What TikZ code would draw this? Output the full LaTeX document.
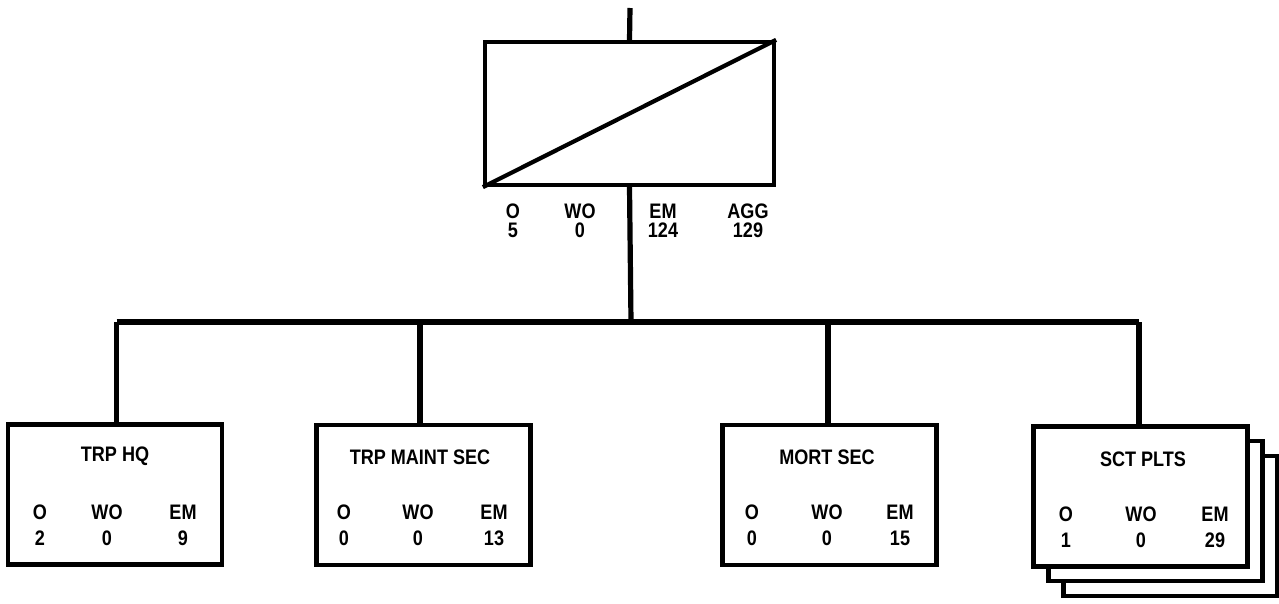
\documentclass[tikz,border=0pt]{standalone}
\usepackage{fontspec}
\setmainfont{Liberation Sans}[FakeStretch=0.86]
\begin{document}
\begin{tikzpicture}[x=1pt,y=-1pt,
  line join=miter,
  unitbox/.style={draw=black,line width=4.2pt,fill=white,minimum width=214pt,minimum height=140pt,inner sep=0pt},
  cmdbox/.style={draw=black,line width=4.2pt,fill=white,minimum width=289pt,minimum height=143pt,inner sep=0pt},
  conn/.style={draw=black,line width=5.2pt},
  lbl/.style={font=\fontsize{21}{21}\selectfont\bfseries,inner sep=0pt,anchor=center}]
\useasboundingbox (0,0) rectangle (1279,604);
% command box
\node[cmdbox] (cmd) at (629.5,113.5) {};
\draw[line width=4.2pt] (cmd.south west) -- (cmd.north east);
\coordinate (topend) at (630,8);
\draw[conn] (topend) -- (cmd.north);
\node[lbl] (c1) at (513,211) {O};
\node[lbl] (c2) at (580,211) {WO};
\node[lbl] (c3) at (663,211) {EM};
\node[lbl] (c4) at (748,211) {AGG};
\node[lbl] (c5) at (513,230) {5};
\node[lbl] (c6) at (580,230) {0};
\node[lbl] (c7) at (663,230) {124};
\node[lbl] (c8) at (748,230) {129};
% subordinate boxes
\node[unitbox] (sct3) at (1170.5,526) {};
\node[unitbox] (sct2) at (1155.5,511) {};
\node[unitbox] (hq) at (115,494.5) {};
\node[unitbox] (maint) at (423.5,495) {};
\node[unitbox] (mort) at (829.5,495) {};
\node[unitbox] (sct) at (1140.5,496.5) {};
% connectors
\coordinate (bus) at (631,322);
\draw[conn] (cmd.south) -- (bus);
\draw[conn] ([xshift=1.5pt]hq.north |- bus) -- ([xshift=-1.5pt]sct.north |- bus);
\draw[conn] ([xshift=1.5pt]hq.north |- bus) -- ([xshift=1.5pt]hq.north);
\draw[conn] ([xshift=-3.5pt]maint.north |- bus) -- ([xshift=-3.5pt]maint.north);
\draw[conn] ([xshift=-1.5pt]mort.north |- bus) -- ([xshift=-1.5pt]mort.north);
\draw[conn] ([xshift=-1.5pt]sct.north |- bus) -- ([xshift=-1.5pt]sct.north);
% texts
\node[lbl] (hqt) at (115,456) {TRP HQ};
\node[lbl] at (40,512) {O};
\node[lbl] at (107,512) {WO};
\node[lbl] at (183,512) {EM};
\node[lbl] at (40,538) {2};
\node[lbl] at (107,538) {0};
\node[lbl] at (183,538) {9};
\node[lbl] (maintt) at (420,457) {TRP MAINT SEC};
\node[lbl] at (344,512) {O};
\node[lbl] at (418,512) {WO};
\node[lbl] at (494,512) {EM};
\node[lbl] at (344,538) {0};
\node[lbl] at (418,538) {0};
\node[lbl] at (494,538) {13};
\node[lbl] (mortt) at (827,457) {MORT SEC};
\node[lbl] at (752,512) {O};
\node[lbl] at (827,512) {WO};
\node[lbl] at (900,512) {EM};
\node[lbl] at (752,538) {0};
\node[lbl] at (827,538) {0};
\node[lbl] at (900,538) {15};
\node[lbl] (sctt) at (1143,459) {SCT PLTS};
\node[lbl] at (1066,514) {O};
\node[lbl] at (1141,514) {WO};
\node[lbl] at (1215,514) {EM};
\node[lbl] at (1066,540) {1};
\node[lbl] at (1141,540) {0};
\node[lbl] at (1215,540) {29};
\end{tikzpicture}
\end{document}
